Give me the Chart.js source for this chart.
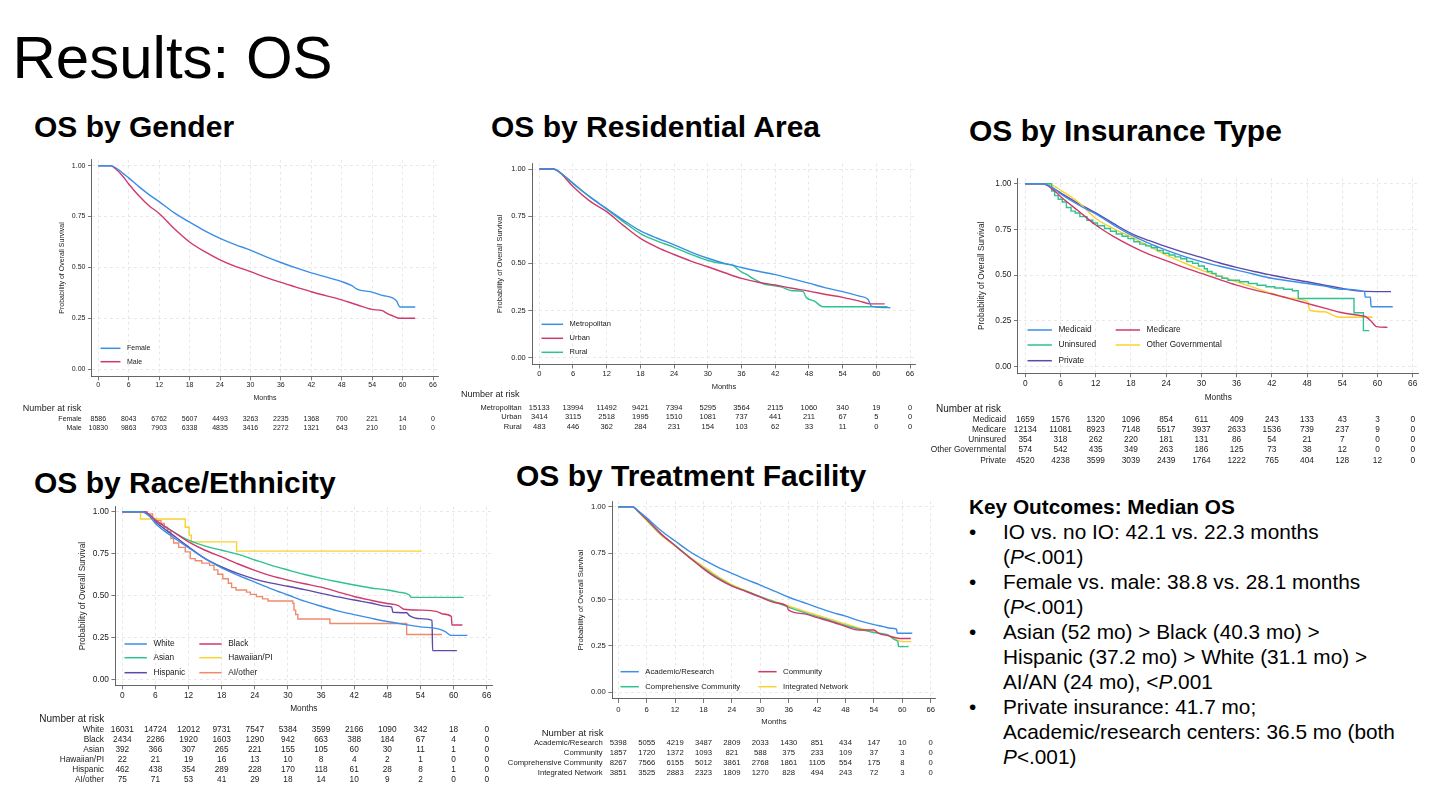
<!DOCTYPE html>
<html>
<head>
<meta charset="utf-8">
<script src="https://cdn.jsdelivr.net/npm/chart.js@4.4.1/dist/chart.umd.min.js"></script>
<style>
html, body { margin: 0; padding: 0; background: #fff; }
body { width: 1440px; height: 806px; position: relative; overflow: hidden;
  font-family: "Liberation Sans", Arial, Helvetica, sans-serif; color: #000; }
.t { position: absolute; white-space: nowrap; line-height: 1; }
#title { left: 12.5px; top: 27.5px; font-size: 60px; }
.sec { font-weight: bold; font-size: 30px; }
canvas { position: absolute; }
#key { position: absolute; left: 969px; top: 493.5px; font-size: 20.8px; line-height: 25px; white-space: nowrap; }
#key .li { position: relative; padding-left: 34px; }
#key .li:before { content: "\2022"; position: absolute; left: 0; }
</style>
</head>
<body>
<div id="title" class="t">Results: OS</div>
<div class="t sec" style="left:34px;top:111.5px">OS by Gender</div>
<div class="t sec" style="left:491px;top:111.5px">OS by Residential Area</div>
<div class="t sec" style="left:969px;top:115.5px">OS by Insurance Type</div>
<div class="t sec" style="left:34px;top:467.5px">OS by Race/Ethnicity</div>
<div class="t sec" style="left:516px;top:460.5px">OS by Treatment Facility</div>

<canvas id="cGender"></canvas>
<canvas id="cResid"></canvas>
<canvas id="cInsur"></canvas>
<canvas id="cRace"></canvas>
<canvas id="cFacil"></canvas>

<div id="key">
  <div><b>Key Outcomes: Median OS</b></div>
  <div class="li">IO vs. no IO: 42.1 vs. 22.3 months<br>(<i>P</i>&lt;.001)</div>
  <div class="li">Female vs. male: 38.8 vs. 28.1 months<br>(<i>P</i>&lt;.001)</div>
  <div class="li">Asian (52 mo) &gt; Black (40.3 mo) &gt;<br>Hispanic (37.2 mo) &gt; White (31.1 mo) &gt;<br>AI/AN (24 mo), &lt;<i>P</i>.001</div>
  <div class="li">Private insurance: 41.7 mo;<br>Academic/research centers: 36.5 mo (both<br><i>P</i>&lt;.001)</div>
</div>

<script>
// months shown in the risk tables / x ticks
const riskMonths = [0, 6, 12, 18, 24, 30, 36, 42, 48, 54, 60, 66];
const survTicks = [0, 0.25, 0.5, 0.75, 1];

// --- gender
const femaleT = [0, 2.5, 3, 4, 5, 6, 8, 10, 12, 15, 18, 21, 24, 27, 30, 33, 36, 39, 42, 45, 48, 50, 51, 54, 56, 58, 58.8, 59.5, 62.5];
const femaleS = [1, 1, 0.995, 0.98, 0.96, 0.94, 0.897, 0.858, 0.823, 0.768, 0.722, 0.68, 0.643, 0.612, 0.585, 0.553, 0.524, 0.497, 0.473, 0.452, 0.43, 0.41, 0.393, 0.378, 0.362, 0.35, 0.335, 0.305, 0.305];
const maleT = [0, 2.5, 3, 4, 5, 6, 8, 10, 12, 15, 18, 21, 24, 27, 30, 33, 36, 39, 42, 45, 48, 51, 54, 56, 57, 58, 59.3, 62.5];
const maleS = [1, 1, 0.993, 0.972, 0.943, 0.91, 0.852, 0.803, 0.765, 0.69, 0.625, 0.577, 0.537, 0.505, 0.479, 0.451, 0.426, 0.403, 0.38, 0.36, 0.34, 0.316, 0.293, 0.287, 0.272, 0.262, 0.25, 0.25];
const femaleRisk = [8586, 8043, 6762, 5607, 4493, 3263, 2235, 1368, 700, 221, 14, 0];
const maleRisk = [10830, 9863, 7903, 6338, 4835, 3416, 2272, 1321, 643, 210, 10, 0];

// --- residential area
const metroT = [0, 2.5, 3, 4, 6, 9, 12, 15, 18, 21, 24, 27, 30, 33, 36, 39, 42, 45, 48, 51, 54, 57, 58.5, 59.2, 62.5];
const metroS = [1, 1, 0.995, 0.975, 0.925, 0.852, 0.79, 0.728, 0.672, 0.633, 0.598, 0.56, 0.527, 0.5, 0.478, 0.458, 0.44, 0.418, 0.395, 0.37, 0.35, 0.326, 0.31, 0.272, 0.265];
const urbanT = [0, 2.5, 3, 4, 6, 9, 12, 15, 18, 21, 24, 27, 30, 33, 36, 39, 42, 45, 48, 51, 54, 57, 59, 61.5];
const urbanS = [1, 1, 0.995, 0.972, 0.907, 0.83, 0.774, 0.7, 0.632, 0.585, 0.547, 0.512, 0.482, 0.45, 0.42, 0.4, 0.385, 0.368, 0.353, 0.335, 0.32, 0.3, 0.285, 0.285];
const ruralT = [0, 2.5, 3, 4, 6, 9, 12, 15, 18, 21, 24, 27, 30, 33, 34.5, 35.3, 36, 37, 38, 39, 40, 41, 43, 45, 47, 47.5, 49, 50.5, 62];
const ruralS = [1, 1, 0.995, 0.975, 0.922, 0.852, 0.787, 0.72, 0.658, 0.618, 0.585, 0.548, 0.515, 0.497, 0.49, 0.47, 0.455, 0.44, 0.42, 0.405, 0.39, 0.385, 0.375, 0.355, 0.35, 0.32, 0.3, 0.27, 0.27];
const metroRisk = [15133, 13994, 11492, 9421, 7394, 5295, 3564, 2115, 1060, 340, 19, 0];
const urbanRisk = [3414, 3115, 2518, 1995, 1510, 1081, 737, 441, 211, 67, 5, 0];
const ruralRisk = [483, 446, 362, 284, 231, 154, 103, 62, 33, 11, 0, 0];

// --- insurance type
const medicaidT = [0, 3, 5, 6, 9, 12, 15, 18, 21, 24, 27, 30, 33, 36, 39, 42, 45, 48, 51, 54, 57.8, 57.9, 58.8, 58.9, 62.6];
const medicaidS = [1, 1, 0.97, 0.945, 0.885, 0.835, 0.775, 0.72, 0.675, 0.637, 0.603, 0.574, 0.55, 0.528, 0.505, 0.483, 0.468, 0.455, 0.44, 0.423, 0.41, 0.38, 0.38, 0.328, 0.328];
const medicareT = [0, 3, 5, 6, 9, 12, 15, 18, 21, 24, 27, 30, 33, 36, 39, 42, 45, 48, 51, 54, 57, 58, 59, 59.8, 61.7];
const medicareS = [1, 1, 0.96, 0.93, 0.852, 0.774, 0.712, 0.66, 0.615, 0.58, 0.543, 0.51, 0.477, 0.446, 0.42, 0.397, 0.372, 0.346, 0.32, 0.295, 0.28, 0.273, 0.246, 0.219, 0.215];
const uninsT = [0, 4.5, 5, 5.6, 6.3, 7, 7.8, 8.5, 9.3, 10.5, 11.5, 12.3, 13.5, 14.5, 15.5, 16.5, 17.5, 18.5, 19.5, 20.5, 21.5, 22.5, 23.5, 24.5, 25.5, 26.5, 27.5, 28.5, 29.5, 30.5, 31, 31.8, 32.5, 33.5, 34.5, 36.5, 38, 39.5, 41, 42.5, 44, 45.5, 46.5, 56, 57.6, 58.6];
const uninsS = [1, 0.96, 0.935, 0.915, 0.9, 0.87, 0.85, 0.84, 0.82, 0.8, 0.785, 0.77, 0.755, 0.74, 0.725, 0.713, 0.7, 0.683, 0.67, 0.66, 0.65, 0.635, 0.62, 0.61, 0.6, 0.59, 0.575, 0.565, 0.55, 0.535, 0.52, 0.51, 0.495, 0.483, 0.472, 0.464, 0.455, 0.445, 0.437, 0.43, 0.423, 0.415, 0.373, 0.295, 0.197, 0.197];
const otherGovT = [0, 3, 5, 6, 9, 12, 15, 18, 21, 24, 27, 30, 33, 36, 39, 42, 45, 48.2, 48.4, 51, 52.5, 53.5, 59.2];
const otherGovS = [1, 1, 0.985, 0.965, 0.9, 0.81, 0.755, 0.71, 0.66, 0.61, 0.568, 0.528, 0.495, 0.464, 0.432, 0.4, 0.375, 0.352, 0.31, 0.3, 0.28, 0.27, 0.27];
const privateT = [0, 3, 5, 6, 9, 12, 15, 18, 21, 24, 27, 30, 33, 36, 39, 42, 45, 48, 51, 54, 57, 62.3];
const privateS = [1, 1, 0.97, 0.95, 0.893, 0.84, 0.783, 0.729, 0.69, 0.656, 0.625, 0.597, 0.568, 0.543, 0.52, 0.5, 0.481, 0.464, 0.445, 0.428, 0.413, 0.41];
const medicaidRisk = [1659, 1576, 1320, 1096, 854, 611, 409, 243, 133, 43, 3, 0];
const medicareRisk = [12134, 11081, 8923, 7148, 5517, 3937, 2633, 1536, 739, 237, 9, 0];
const uninsRisk = [354, 318, 262, 220, 181, 131, 86, 54, 21, 7, 0, 0];
const otherGovRisk = [574, 542, 435, 349, 263, 186, 125, 73, 38, 12, 0, 0];
const privateRisk = [4520, 4238, 3599, 3039, 2439, 1764, 1222, 765, 404, 128, 12, 0];

// --- race / ethnicity
const whiteT = [0, 3.5, 4, 5, 6, 9, 12, 15, 18, 21, 24, 27, 30, 33, 36, 39, 42, 45, 48, 51, 54, 57, 58.5, 59.5, 62.5];
const whiteS = [1, 1, 0.995, 0.97, 0.93, 0.852, 0.785, 0.72, 0.665, 0.62, 0.58, 0.54, 0.503, 0.466, 0.436, 0.408, 0.386, 0.365, 0.345, 0.328, 0.313, 0.302, 0.285, 0.262, 0.262];
const blackT = [0, 4, 5, 6, 9, 12, 15, 18, 21, 24, 27, 30, 33, 36, 39, 42, 45, 48, 50, 51, 54, 57, 58, 59.6, 59.7, 61.6];
const blackS = [1, 1, 0.98, 0.95, 0.885, 0.82, 0.77, 0.73, 0.688, 0.65, 0.617, 0.592, 0.57, 0.55, 0.522, 0.494, 0.472, 0.452, 0.44, 0.418, 0.413, 0.404, 0.39, 0.375, 0.324, 0.324];
const asianT = [0, 4, 5, 6, 9, 12, 15, 18, 21, 24, 27, 30, 33, 36, 39, 42, 45, 48, 50, 52, 52.3, 61.8];
const asianS = [1, 1, 0.98, 0.95, 0.885, 0.83, 0.795, 0.77, 0.745, 0.712, 0.68, 0.652, 0.625, 0.602, 0.582, 0.563, 0.545, 0.533, 0.52, 0.503, 0.489, 0.489];
const hawaiiT = [0, 3.3, 11.4, 12.1, 12.5, 20.7, 54.2];
const hawaiiS = [1, 0.956, 0.907, 0.86, 0.82, 0.765, 0.765];
const hispanicT = [0, 4, 5, 6, 9, 12, 15, 18, 21, 24, 27, 30, 33, 36, 39, 42, 45, 48, 48.8, 49, 51.5, 52, 54, 56.1, 56.2, 60.6];
const hispanicS = [1, 1, 0.975, 0.94, 0.865, 0.79, 0.72, 0.67, 0.63, 0.598, 0.574, 0.555, 0.535, 0.513, 0.492, 0.473, 0.455, 0.435, 0.43, 0.4, 0.397, 0.38, 0.362, 0.352, 0.171, 0.171];
const aiOtherT = [0, 4.5, 5.5, 6.2, 7, 7.6, 8.2, 8.8, 9.3, 10.2, 11.4, 12.3, 13.2, 14.4, 15.8, 16.6, 17.3, 18.2, 19.2, 19.8, 20.6, 22.5, 23.2, 24.3, 25.4, 26.4, 30.9, 31.1, 31.4, 31.8, 37.6, 51.5, 57.9];
const aiOtherS = [1, 0.987, 0.96, 0.947, 0.93, 0.907, 0.88, 0.84, 0.813, 0.787, 0.76, 0.72, 0.707, 0.693, 0.68, 0.653, 0.627, 0.6, 0.573, 0.547, 0.533, 0.52, 0.507, 0.493, 0.48, 0.467, 0.453, 0.413, 0.387, 0.36, 0.333, 0.267, 0.267];
const whiteRisk = [16031, 14724, 12012, 9731, 7547, 5384, 3599, 2166, 1090, 342, 18, 0];
const blackRisk = [2434, 2286, 1920, 1603, 1290, 942, 663, 388, 184, 67, 4, 0];
const asianRisk = [392, 366, 307, 265, 221, 155, 105, 60, 30, 11, 1, 0];
const hawaiiRisk = [22, 21, 19, 16, 13, 10, 8, 4, 2, 1, 0, 0];
const hispanicRisk = [462, 438, 354, 289, 228, 170, 118, 61, 28, 8, 1, 0];
const aiOtherRisk = [75, 71, 53, 41, 29, 18, 14, 10, 9, 2, 0, 0];

// --- treatment facility
const academicT = [0, 3, 4, 6, 9, 12, 15, 18, 21, 24, 27, 30, 33, 36, 39, 42, 45, 48, 51, 54, 56, 57.5, 58.8, 58.9, 62.1];
const academicS = [1, 1, 0.982, 0.94, 0.872, 0.815, 0.76, 0.715, 0.675, 0.641, 0.608, 0.578, 0.545, 0.512, 0.485, 0.458, 0.432, 0.41, 0.385, 0.365, 0.354, 0.345, 0.34, 0.318, 0.318];
const communityT = [0, 3, 4, 6, 9, 12, 15, 18, 21, 24, 27, 30, 33, 35.7, 35.9, 39, 42, 45, 48, 50, 51, 54, 55, 57, 59.5, 61.8];
const communityS = [1, 1, 0.98, 0.932, 0.855, 0.79, 0.727, 0.665, 0.612, 0.572, 0.543, 0.513, 0.483, 0.462, 0.445, 0.424, 0.402, 0.38, 0.355, 0.338, 0.336, 0.336, 0.318, 0.305, 0.29, 0.29];
const comprehT = [0, 3, 4, 6, 9, 12, 15, 18, 21, 24, 27, 30, 33, 36, 39, 42, 45, 48, 51, 54, 57, 58.5, 59.1, 59.2, 61.3];
const comprehS = [1, 1, 0.98, 0.93, 0.852, 0.792, 0.728, 0.67, 0.618, 0.575, 0.545, 0.515, 0.487, 0.458, 0.432, 0.408, 0.385, 0.36, 0.34, 0.322, 0.309, 0.282, 0.27, 0.246, 0.246];
const integratedT = [0, 3, 4, 6, 9, 12, 15, 18, 21, 24, 27, 30, 33, 36, 39, 42, 45, 48, 51, 54, 57, 58, 60, 61.9];
const integratedS = [1, 1, 0.978, 0.925, 0.848, 0.788, 0.73, 0.678, 0.625, 0.58, 0.548, 0.515, 0.49, 0.465, 0.44, 0.415, 0.393, 0.368, 0.345, 0.325, 0.305, 0.294, 0.273, 0.273];
const academicRisk = [5398, 5055, 4219, 3487, 2809, 2033, 1430, 851, 434, 147, 10, 0];
const communityRisk = [1857, 1720, 1372, 1093, 821, 588, 375, 233, 109, 37, 3, 0];
const comprehRisk = [8267, 7566, 6155, 5012, 3861, 2768, 1861, 1105, 554, 175, 8, 0];
const integratedRisk = [3851, 3525, 2883, 2323, 1809, 1270, 828, 494, 243, 72, 3, 0];

const FONT = '"Liberation Sans", Arial, Helvetica, sans-serif';
const BLUE = '#3b8ee8', RED = '#cf3a6b', GREEN = '#2ec28e', YELLOW = '#f8d22e', PURPLE = '#5f48a8', SALMON = '#ef8a6c';
const X_MIN = -1.25, X_MAX = 67, Y_MIN = -0.036, Y_MAX = 1.03;

// layout of each panel, in page pixels (measured off the slide)
const panels = [
  { id: 'cGender', cl: 15, ct: 150, cw: 440, ch: 290, x0: 98.3, x66: 433, y1: 165.7, y0: 369, fs: 7,
    tickY: 385, monthsY: 398, yTitleX: 61.7,
    legend: { cols: 1, rows: [348.3, 361.7], col2X: 0, lineLen: 20 },
    risk: { narX: 22.7, narY: 408.5, narFs: 9, labelRight: 81.7, rows: [419, 427.7] },
    series: [
      { label: 'Female', t: femaleT, s: femaleS, color: BLUE, n: femaleRisk },
      { label: 'Male', t: maleT, s: maleS, color: RED, n: maleRisk }
    ] },
  { id: 'cResid', cl: 450, ct: 155, cw: 480, ch: 285, x0: 539.3, x66: 910, y1: 169, y0: 357.7, fs: 7.5,
    tickY: 374.3, monthsY: 386.7, yTitleX: 500,
    legend: { cols: 1, rows: [324.3, 338.3, 352.3], col2X: 0, lineLen: 21.6 },
    risk: { narX: 461, narY: 395, narFs: 9, labelRight: 521.7, rows: [408.3, 417.3, 426.7] },
    series: [
      { label: 'Metropolitan', t: metroT, s: metroS, color: BLUE, n: metroRisk },
      { label: 'Urban', t: urbanT, s: urbanS, color: RED, n: urbanRisk },
      { label: 'Rural', t: ruralT, s: ruralS, color: GREEN, n: ruralRisk }
    ] },
  { id: 'cInsur', cl: 925, ct: 168, cw: 505, ch: 302, x0: 1025.3, x66: 1412.7, y1: 183.7, y0: 366.7, fs: 8.3,
    tickY: 383.3, monthsY: 397.3, yTitleX: 981.7,
    legend: { cols: 2, rows: [330, 345, 360.7], col2X: 1115.7, lineLen: 24.4 },
    risk: { narX: 936, narY: 409, narFs: 10, labelRight: 1006, rows: [420, 430, 440, 450, 460.7] },
    series: [
      { label: 'Medicaid', t: medicaidT, s: medicaidS, color: BLUE, n: medicaidRisk },
      { label: 'Medicare', t: medicareT, s: medicareS, color: RED, n: medicareRisk },
      { label: 'Uninsured', t: uninsT, s: uninsS, color: GREEN, n: uninsRisk, stepped: true },
      { label: 'Other Governmental', t: otherGovT, s: otherGovS, color: YELLOW, n: otherGovRisk },
      { label: 'Private', t: privateT, s: privateS, color: PURPLE, n: privateRisk }
    ] },
  { id: 'cRace', cl: 25, ct: 497, cw: 480, ch: 293, x0: 122.3, x66: 486.7, y1: 511.7, y0: 679.3, fs: 8.3,
    tickY: 696, monthsY: 708.3, yTitleX: 82.3,
    legend: { cols: 2, rows: [644, 657.7, 672.7], col2X: 199.3, lineLen: 22.4 },
    risk: { narX: 39.3, narY: 719.3, narFs: 10, labelRight: 104, rows: [730, 740, 750, 760, 769.3, 779.3] },
    series: [
      { label: 'White', t: whiteT, s: whiteS, color: BLUE, n: whiteRisk },
      { label: 'Black', t: blackT, s: blackS, color: RED, n: blackRisk },
      { label: 'Asian', t: asianT, s: asianS, color: GREEN, n: asianRisk },
      { label: 'Hawaiian/PI', t: hawaiiT, s: hawaiiS, color: YELLOW, n: hawaiiRisk, stepped: true },
      { label: 'Hispanic', t: hispanicT, s: hispanicS, color: PURPLE, n: hispanicRisk },
      { label: 'AI/other', t: aiOtherT, s: aiOtherS, color: SALMON, n: aiOtherRisk, stepped: true }
    ] },
  { id: 'cFacil', cl: 500, ct: 492, cw: 445, ch: 293, x0: 618.3, x66: 930.7, y1: 506.7, y0: 692.3, fs: 7.7,
    tickY: 710, monthsY: 721.7, yTitleX: 581,
    legend: { cols: 2, rows: [671.7, 686.7], col2X: 758.3, lineLen: 18.3 },
    risk: { narX: 541.7, narY: 733.3, narFs: 9.5, labelRight: 602.7, rows: [743.3, 753.3, 762.7, 772.7] },
    series: [
      { label: 'Academic/Research', t: academicT, s: academicS, color: BLUE, n: academicRisk },
      { label: 'Community', t: communityT, s: communityS, color: RED, n: communityRisk },
      { label: 'Comprehensive Community', t: comprehT, s: comprehS, color: GREEN, n: comprehRisk },
      { label: 'Integrated Network', t: integratedT, s: integratedS, color: YELLOW, n: integratedRisk }
    ] }
];

// legend inside the plot + number-at-risk table under it
function kmExtras(p) {
  return {
    id: 'kmExtras',
    afterDraw(chart) {
      const ctx = chart.ctx, xs = chart.scales.x;
      ctx.save();
      ctx.textBaseline = 'middle';
      ctx.fillStyle = '#1a1a1a';
      ctx.font = p.fs + 'px ' + FONT;
      const lg = p.legend;
      chart.data.datasets.forEach((ds, i) => {
        const col = i % lg.cols, row = Math.floor(i / lg.cols);
        const x = col === 0 ? xs.getPixelForValue(0) + 2.2 : lg.col2X - p.cl;
        const y = lg.rows[row] - p.ct;
        ctx.strokeStyle = ds.borderColor;
        ctx.lineWidth = 1.5;
        ctx.beginPath(); ctx.moveTo(x, y); ctx.lineTo(x + lg.lineLen, y); ctx.stroke();
        ctx.textAlign = 'left';
        ctx.fillText(ds.label, x + lg.lineLen + 6.5, y);
      });
      const rk = p.risk;
      ctx.font = rk.narFs + 'px ' + FONT;
      ctx.textAlign = 'left';
      ctx.fillText('Number at risk', rk.narX - p.cl, rk.narY - p.ct);
      ctx.font = p.fs + 'px ' + FONT;
      p.series.forEach((s, i) => {
        const y = rk.rows[i] - p.ct;
        ctx.textAlign = 'right';
        ctx.fillText(s.label, rk.labelRight - p.cl, y);
        ctx.textAlign = 'center';
        s.n.forEach((v, j) => ctx.fillText(String(v), xs.getPixelForValue(riskMonths[j]), y));
      });
      ctx.restore();
    }
  };
}

function kmPanel(p) {
  const cv = document.getElementById(p.id);
  cv.width = p.cw; cv.height = p.ch;
  cv.style.left = p.cl + 'px'; cv.style.top = p.ct + 'px';
  const ppm = (p.x66 - p.x0) / 66, ppu = p.y0 - p.y1;
  const L = p.x0 + X_MIN * ppm, R = p.x0 + X_MAX * ppm;
  const T = p.y1 - (Y_MAX - 1) * ppu, B = p.y0 - Y_MIN * ppu;
  const lh = p.fs * 1.2;
  const yw = L - p.yTitleX + lh / 2;
  const xh = p.monthsY - B + lh / 2;
  const font = { family: FONT, size: p.fs };
  const grid = { color: '#e2e2e2', lineWidth: 0.8, tickLength: 4, tickColor: '#555' };
  const border = { color: '#555', width: 0.9, dash: [3, 3] };

  new Chart(cv, {
    type: 'line',
    data: {
      datasets: p.series.map(s => ({
        label: s.label,
        data: s.t.map((t, i) => ({ x: t, y: s.s[i] })),
        borderColor: s.color,
        borderWidth: 1.4,
        pointRadius: 0,
        fill: false,
        stepped: !!s.stepped,
        cubicInterpolationMode: s.stepped ? 'default' : 'monotone'
      }))
    },
    options: {
      responsive: false,
      animation: false,
      layout: { padding: { left: L - yw - p.cl, top: T - p.ct, right: p.cl + p.cw - R, bottom: p.ct + p.ch - B - xh } },
      plugins: { legend: { display: false }, tooltip: { enabled: false } },
      scales: {
        x: {
          type: 'linear', min: X_MIN, max: X_MAX,
          afterBuildTicks: ax => { ax.ticks = riskMonths.map(v => ({ value: v })); },
          afterFit: ax => { ax.height = xh; },
          ticks: { font, color: '#222', padding: p.tickY - B - lh / 2 - 4, maxRotation: 0, autoSkip: false },
          grid, border,
          title: { display: true, text: 'Months', font, color: '#222', padding: 0 }
        },
        y: {
          type: 'linear', min: Y_MIN, max: Y_MAX,
          afterBuildTicks: ax => { ax.ticks = survTicks.map(v => ({ value: v })); },
          afterFit: ax => { ax.width = yw; },
          ticks: { font, color: '#222', padding: 2.5, callback: v => Number(v).toFixed(2) },
          grid, border,
          title: { display: true, text: 'Probability of Overall Survival', font, color: '#222', padding: 0 }
        }
      }
    },
    plugins: [kmExtras(p)]
  });
}

panels.forEach(kmPanel);
</script>
</body>
</html>
